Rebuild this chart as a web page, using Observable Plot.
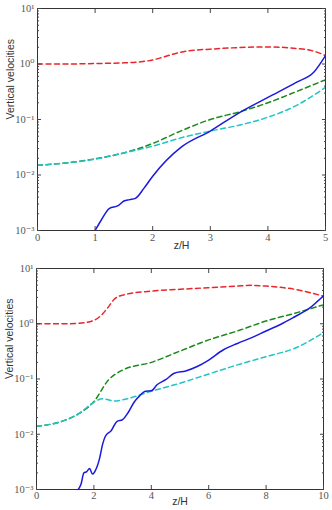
<!DOCTYPE html>
<html><head><meta charset="utf-8">
<script src="https://cdn.jsdelivr.net/npm/d3@7"></script>
<script src="https://cdn.jsdelivr.net/npm/@observablehq/plot@0.6"></script>
<style>
body{margin:0;background:#fff;}
#c svg{display:block;}
</style>
</head><body><div id="c"></div>
<script>
// Top panel (z/H 0..5)
const topZ = [0, 0.5, 1, 1.5, 1.8, 2, 2.2, 2.4, 2.6, 3, 3.5, 4, 4.5, 4.8, 5];
const topRed = [1.0, 1.0, 1.02, 1.05, 1.1, 1.18, 1.35, 1.55, 1.72, 1.85, 1.98, 2.03, 1.9, 1.7, 1.42];
const topGreenZ = [0, 0.5, 1, 1.5, 2, 2.5, 3, 3.5, 4, 4.5, 5];
const topGreen = [0.015, 0.0165, 0.0196, 0.025, 0.037, 0.063, 0.1, 0.137, 0.2, 0.32, 0.52];
const topCyan = [0.015, 0.0165, 0.0193, 0.025, 0.033, 0.047, 0.062, 0.079, 0.11, 0.18, 0.38];
const topBlueZ = [1, 1.1, 1.25, 1.4, 1.5, 1.6, 1.7, 1.85, 2, 2.5, 3, 3.5, 4, 4.5, 4.8, 5];
const topBlue = [0.001, 0.0015, 0.0025, 0.0028, 0.0034, 0.0036, 0.0038, 0.0058, 0.0095, 0.032, 0.062, 0.132, 0.25, 0.47, 0.72, 1.42];

// Bottom panel (z/H 0..10)
const botRedZ = [0, 1, 1.5, 2, 2.2, 2.5, 2.7, 3, 4, 5, 6, 7, 7.5, 8, 9, 10];
const botRed = [1.0, 1.0, 1.02, 1.15, 1.34, 2.0, 2.75, 3.3, 3.9, 4.2, 4.5, 4.8, 4.95, 4.8, 4.2, 3.15];
const botGreenZ = [0, 1, 1.5, 2, 2.5, 3, 4, 5, 6, 7, 8, 9, 10];
const botGreen = [0.0139, 0.018, 0.024, 0.039, 0.095, 0.145, 0.2, 0.32, 0.51, 0.74, 1.12, 1.55, 2.2];
const botCyanZ = [0, 1, 1.5, 2, 2.3, 2.7, 3, 4, 5, 6, 7, 8, 9, 10];
const botCyan = [0.0139, 0.018, 0.024, 0.038, 0.044, 0.04, 0.042, 0.06, 0.084, 0.123, 0.18, 0.254, 0.36, 0.69];
const botBlueZ = [1.45, 1.55, 1.65, 1.75, 1.85, 1.95, 2.05, 2.2, 2.3, 2.4, 2.6, 2.8, 3.0, 3.2, 3.4, 3.6, 3.8, 4.0, 4.2, 4.5, 4.8, 5.2, 5.6, 6, 6.5, 7, 7.5, 8, 8.5, 9, 9.5, 10];
const botBlue = [0.001, 0.00124, 0.002, 0.0021, 0.0024, 0.0019, 0.0022, 0.0037, 0.0065, 0.0092, 0.0116, 0.017, 0.0184, 0.025, 0.038, 0.05, 0.06, 0.061, 0.0785, 0.097, 0.127, 0.14, 0.168, 0.22, 0.335, 0.44, 0.56, 0.74, 0.97, 1.34, 1.89, 3.2];

const majorY = [1e-3, 1e-2, 1e-1, 1e0, 1e1];
const minorY = [];
for (const d of [1e-3, 1e-2, 1e-1, 1e0]) for (let m = 2; m <= 9; m++) minorY.push(d * m);
const topXTicks = [0, 1, 2, 3, 4, 5];
const botXTicks = [0, 2, 4, 6, 8, 10];
const yTitle = "Vertical velocities";
const xTitle = "z/H";

const sup = {"-":"⁻","0":"⁰","1":"¹","2":"²","3":"³"};
const fmtY = v => "10" + String(Math.round(Math.log10(v))).split("").map(c => sup[c]).join("");

const COLORS = {red: "#e8262b", green: "#1a8a1a", cyan: "#22c4c4", blue: "#1a1adf"};
const serif = "'Liberation Serif', 'DejaVu Serif', serif";
const sans = "'Liberation Sans', Arial, sans-serif";

function rows(zs, vs) { return zs.map((z, i) => ({z, v: vs[i]})); }

function panel({xDomain, xTicks, series, marginTop, marginBottom, marginLeft, marginRight, height, tickPad, titleDy}) {
  const lineMarks = series.map(s => Plot.line(rows(s.z, s.v), {
    x: "z", y: "v", stroke: s.color, strokeWidth: 1.5,
    strokeDasharray: s.dash ? "5,3.5" : null, curve: "monotone-x", clip: true
  }));
  return Plot.plot({
    width: 332, height, marginTop, marginBottom, marginLeft, marginRight,
    style: {fontFamily: serif, background: "#fff", overflow: "visible"},
    x: {domain: xDomain},
    y: {type: "log", domain: [1e-3, 10]},
    marks: [
      ...lineMarks,
      Plot.frame({stroke: "#333", strokeWidth: 1}),
      Plot.axisX(xTicks, {anchor: "bottom", tickSize: -4, tickPadding: tickPad, fontSize: 10.5, fill: "#555", stroke: "#444", label: null}),
      Plot.axisX(xTicks, {anchor: "top", tickSize: -4, tickFormat: () => "", stroke: "#444", label: null}),
      Plot.axisY(majorY, {anchor: "left", tickSize: -4, tickPadding: 7, fontSize: 10.5, fill: "#555", stroke: "#444", tickFormat: fmtY, label: null}),
      Plot.axisY(majorY, {anchor: "right", tickSize: -4, tickFormat: () => "", stroke: "#444", label: null}),
      Plot.axisY(minorY, {anchor: "left", tickSize: -2, tickFormat: () => "", stroke: "#444", label: null}),
      Plot.axisY(minorY, {anchor: "right", tickSize: -2, tickFormat: () => "", stroke: "#444", label: null}),
      Plot.text([xTitle], {frameAnchor: "bottom", dy: titleDy, fontFamily: sans, fontSize: 10.5, fill: "#333", text: d => d}),
      Plot.text([yTitle], {frameAnchor: "left", dx: -27, rotate: -90, fontFamily: sans, fontSize: 10.5, fill: "#333", text: d => d})
    ]
  });
}

const c = document.getElementById("c");
c.appendChild(panel({
  xDomain: [0, 5], xTicks: topXTicks, height: 255,
  marginTop: 8, marginBottom: 25, marginLeft: 37, marginRight: 7,
  tickPad: 7, titleDy: 18,
  series: [
    {z: topZ, v: topRed, color: COLORS.red, dash: true},
    {z: topGreenZ, v: topGreen, color: COLORS.green, dash: true},
    {z: topGreenZ, v: topCyan, color: COLORS.cyan, dash: true},
    {z: topBlueZ, v: topBlue, color: COLORS.blue, dash: false}
  ]
}));
c.appendChild(panel({
  xDomain: [0, 10], xTicks: botXTicks, height: 255,
  marginTop: 13, marginBottom: 21, marginLeft: 36, marginRight: 9,
  tickPad: 6, titleDy: 15,
  series: [
    {z: botRedZ, v: botRed, color: COLORS.red, dash: true},
    {z: botGreenZ, v: botGreen, color: COLORS.green, dash: true},
    {z: botCyanZ, v: botCyan, color: COLORS.cyan, dash: true},
    {z: botBlueZ, v: botBlue, color: COLORS.blue, dash: false}
  ]
}));
</script>
</body></html>
